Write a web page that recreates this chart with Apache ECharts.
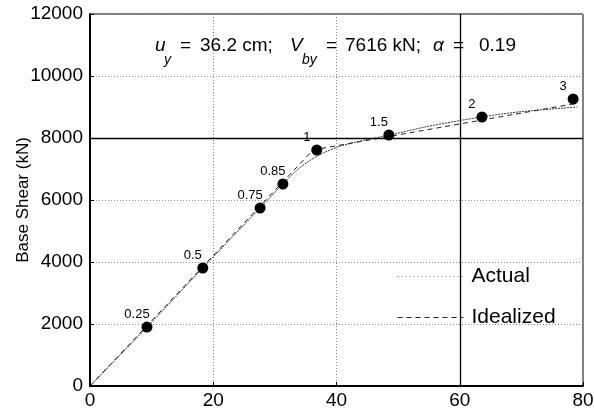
<!DOCTYPE html>
<html>
<head>
<meta charset="utf-8">
<script src="https://cdn.jsdelivr.net/npm/echarts@6/dist/echarts.min.js"></script>
<style>
  html, body { margin: 0; padding: 0; background: #fff; }
  #chart { width: 594px; height: 416px; }
</style>
</head>
<body>
<div id="chart"></div>
<script>
// Roof displacement (cm) and base shear (kN) at each intensity level
const levelLabels = ['0.25', '0.5', '0.75', '0.85', '1', '1.5', '2', '3'];
const levelDisp   = [9.25, 18.3, 27.6, 31.3, 36.8, 48.5, 63.6, 78.4];
const levelShear  = [1900, 3806, 5742, 6516, 7613, 8097, 8677, 9258];

// Pushover curve (actual)
const actualDisp  = [0, 9.25, 18.3, 27.6, 31.3, 33.5, 35.5, 37.5, 40.5, 44.5, 48.5, 55, 63.6, 70, 79];
const actualShear = [0, 1900, 3806, 5742, 6516, 6950, 7250, 7480, 7730, 7930, 8090, 8380, 8680, 8850, 9000];

// Bilinear idealization
const idealDisp  = [0, 36.2, 79];
const idealShear = [0, 7616, 9120];

const xTicks = [0, 20, 40, 60, 80];
const yTicks = [0, 2000, 4000, 6000, 8000, 10000, 12000];

const zip = (a, b) => a.map((v, i) => [v, b[i]]);

const chart = echarts.init(document.getElementById('chart'), null, { renderer: 'canvas' });
const font = 'Liberation Sans, Arial, sans-serif';

// Yield-point annotation pieces: italic symbols with subscripts
const mainY = 48, subY = 62;
const txt = (x, y, s, size, italic) => ({
  type: 'text', left: x, top: y - size * 0.6, z: 100, silent: true,
  style: { text: s, fill: '#000', font: (italic ? 'italic ' : '') + size + 'px ' + font }
});

chart.setOption({
  animation: false,
  backgroundColor: '#fff',
  textStyle: { fontFamily: font },
  grid: {
    left: 90, right: 11, top: 14, bottom: 30,
    outerBoundsMode: 'none',
    containLabel: false,
    show: true, borderColor: '#000', borderWidth: 1, backgroundColor: 'transparent'
  },
  xAxis: {
    type: 'value',
    min: xTicks[0], max: xTicks[xTicks.length - 1], interval: 20,
    axisLine: { show: true, lineStyle: { color: '#000', width: 2 } },
    axisTick: { show: true, inside: true, length: 4, lineStyle: { color: '#000' } },
    axisLabel: { color: '#000', fontSize: 19, margin: 5, fontFamily: font, formatter: v => String(v) },
    splitLine: { show: true, lineStyle: { color: '#888', type: [1, 2], width: 1 } }
  },
  yAxis: {
    type: 'value',
    min: yTicks[0], max: yTicks[yTicks.length - 1], interval: 2000,
    name: 'Base Shear (kN)',
    nameLocation: 'middle',
    nameGap: 58,
    nameMoveOverlap: false,
    nameTextStyle: { color: '#000', fontSize: 17, fontFamily: font },
    axisLine: { show: true, lineStyle: { color: '#000', width: 2 } },
    axisTick: { show: true, inside: true, length: 4, lineStyle: { color: '#000' } },
    axisLabel: { color: '#000', fontSize: 19, margin: 7, fontFamily: font, formatter: v => String(v) },
    splitLine: { show: true, lineStyle: { color: '#888', type: [1, 2], width: 1 } }
  },
  legend: {
    orient: 'vertical',
    left: 397, top: 266,
    itemWidth: 66, itemHeight: 14, itemGap: 20,
    padding: 0,
    backgroundColor: 'transparent',
    textStyle: { color: '#000', fontSize: 21, fontFamily: font, padding: [0, 0, 0, 3] },
    data: [
      { name: 'Actual', itemStyle: { opacity: 0 }, lineStyle: { color: '#666', width: 1, type: [1, 3] } },
      { name: 'Idealized', itemStyle: { opacity: 0 }, lineStyle: { color: '#222', width: 1, type: [5, 4] } }
    ]
  },
  graphic: [
    txt(155, mainY, 'u', 19, true),
    txt(164, subY, 'y', 14, true),
    txt(180, mainY, '=', 19, false),
    txt(200, mainY, '36.2 cm;', 19, false),
    txt(290, mainY, 'V', 19, true),
    txt(302, subY, 'by', 14, true),
    txt(326, mainY, '=', 19, false),
    txt(345, mainY, '7616 kN;', 19, false),
    txt(433, mainY, 'α', 19, true),
    txt(453, mainY, '=', 19, false),
    txt(479, mainY, '0.19', 19, false)
  ],
  series: [
    {
      name: 'Actual',
      type: 'line',
      data: zip(actualDisp, actualShear),
      showSymbol: false,
      symbol: 'none',
      smooth: 0.3,
      itemStyle: { color: '#333' },
      lineStyle: { color: '#333', width: 1, type: [2, 1] },
      z: 3,
      markLine: {
        silent: true,
        symbol: 'none',
        label: { show: false },
        lineStyle: { color: '#000', width: 1.3, type: 'solid' },
        data: [{ yAxis: 8000 }, { xAxis: 60 }]
      }
    },
    {
      name: 'Idealized',
      type: 'line',
      data: zip(idealDisp, idealShear),
      showSymbol: false,
      symbol: 'none',
      itemStyle: { color: '#222' },
      lineStyle: { color: '#222', width: 1, type: [5, 4] },
      z: 4
    },
    {
      name: 'Levels',
      type: 'scatter',
      data: levelDisp.map((x, i) => ({ value: [x, levelShear[i]], name: levelLabels[i] })),
      symbol: 'circle',
      symbolSize: 11,
      itemStyle: { color: '#000', opacity: 1 },
      label: {
        show: true,
        position: 'inside',
        offset: [-10, -13],
        formatter: p => p.name,
        color: '#000',
        fontSize: 13,
        fontFamily: font
      },
      z: 5
    }
  ]
});
</script>
</body>
</html>
